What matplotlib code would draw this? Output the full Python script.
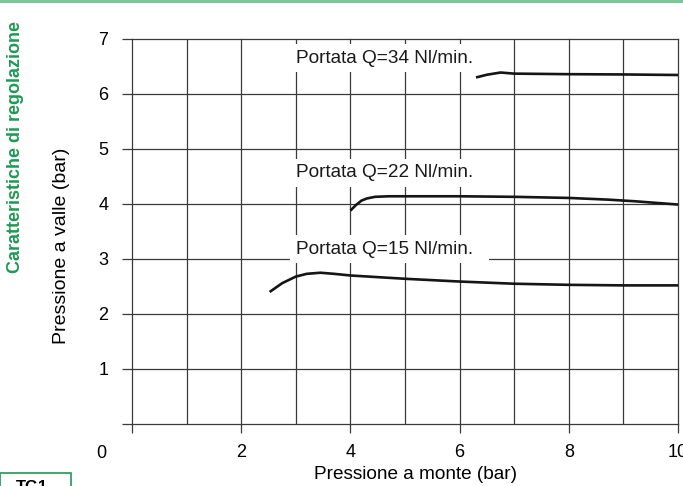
import matplotlib
matplotlib.use('Agg')
import matplotlib.pyplot as plt
from matplotlib.patches import Rectangle
from matplotlib.lines import Line2D
from matplotlib.ticker import FixedLocator

plt.rcParams['font.family'] = ['Liberation Sans', 'DejaVu Sans']

# curve values
q15_x = [2.52, 2.75, 3.0, 3.2, 3.45, 3.7, 4.0, 4.5, 5.0, 6.0, 7.0, 8.0, 9.0, 10.0]
q15_y = [2.40, 2.56, 2.68, 2.73, 2.75, 2.73, 2.70, 2.67, 2.64, 2.59, 2.55, 2.53, 2.52, 2.52]

q22_x = [4.0, 4.1, 4.2, 4.3, 4.45, 4.7, 6.0, 7.0, 8.0, 8.7, 9.2, 9.6, 10.0]
q22_y = [3.88, 3.98, 4.06, 4.10, 4.13, 4.14, 4.14, 4.13, 4.11, 4.08, 4.05, 4.02, 3.99]

q34_x = [6.3, 6.5, 6.75, 7.0, 8.0, 9.0, 10.0]
q34_y = [6.30, 6.35, 6.39, 6.37, 6.36, 6.355, 6.345]

labels = ['Portata Q=34 Nl/min.', 'Portata Q=22 Nl/min.', 'Portata Q=15 Nl/min.  ']
label_pos = [(3.0, 6.65), (3.0, 4.57), (3.0, 3.18)]

x_major = [0, 2, 4, 6, 8, 10]
x_minor = [1, 3, 5, 7, 9]
y_ticks = [0, 1, 2, 3, 4, 5, 6, 7]

green = '#1c9a52'
gridc = '#3a3a3a'

fig = plt.figure(figsize=(6.83, 4.86), dpi=100)
ax = fig.add_axes([0.1933, 0.1276, 0.7994, 0.7922])
ax.set_xlim(0, 10)
ax.set_ylim(0, 7)

for s in ax.spines.values():
    s.set_visible(False)

ax.xaxis.set_major_locator(FixedLocator(x_major))
ax.xaxis.set_minor_locator(FixedLocator(x_minor))
ax.yaxis.set_major_locator(FixedLocator(y_ticks))
ax.set_xticklabels([''] + [str(v) for v in x_major[1:]])
ax.set_yticklabels([''] + [str(v) for v in y_ticks[1:]])

ax.grid(True, which='major', color=gridc, linewidth=0.9)
ax.grid(True, which='minor', axis='x', color=gridc, linewidth=0.9)
for gl in ax.get_xgridlines() + ax.get_ygridlines():
    gl.set_clip_on(False)
for gl in ax.xaxis.get_minorticklines():
    gl.set_visible(False)
ax.tick_params(axis='x', which='major', direction='out', length=6.5, width=0.9,
               color=gridc, pad=8, labelsize=13)
ax.tick_params(axis='x', which='minor', length=0)
ax.tick_params(axis='y', direction='out', length=7.2, width=0.9,
               color=gridc, pad=10, labelsize=13)

ax.plot(q15_x, q15_y, color='#151515', lw=1.9, solid_capstyle='butt')
ax.plot(q22_x, q22_y, color='#151515', lw=1.9, solid_capstyle='butt')
ax.plot(q34_x, q34_y, color='#151515', lw=1.9, solid_capstyle='butt')

for txt, (lx, ly) in zip(labels, label_pos):
    ax.text(lx, ly, txt, fontsize=13.7, va='center', ha='left', color='#1a1a1a',
            bbox=dict(facecolor='white', edgecolor='none', pad=4))

# shared origin label
ax.annotate('0', xy=(0, 0), xytext=(-22, -21), textcoords='offset points',
            ha='center', va='center', fontsize=13, annotation_clip=False)

ax.set_xlabel('Pressione a monte (bar)', fontsize=13.7)
ax.xaxis.set_label_coords(0.52, -0.109)
ax.set_ylabel('Pressione a valle (bar)', fontsize=14)
ax.yaxis.set_label_coords(-0.1136, 0.462)

fig.text(0.022, 0.698, 'Caratteristiche di regolazione', rotation=90,
         color=green, fontsize=13, fontweight='bold', ha='center', va='center')

fig.add_artist(Line2D([0, 1], [0.997, 0.997], color='#7cc49a', lw=2.2,
                      transform=fig.transFigure))
fig.add_artist(Rectangle((0.0, -0.01), 71 / 683, 0.037, transform=fig.transFigure,
                         facecolor='white', edgecolor=green, lw=1.2))
fig.text(32 / 683, 0.0125, 'TG1', fontsize=12, fontweight='bold', ha='center', va='top')

fig.savefig('out.png', dpi=100)
